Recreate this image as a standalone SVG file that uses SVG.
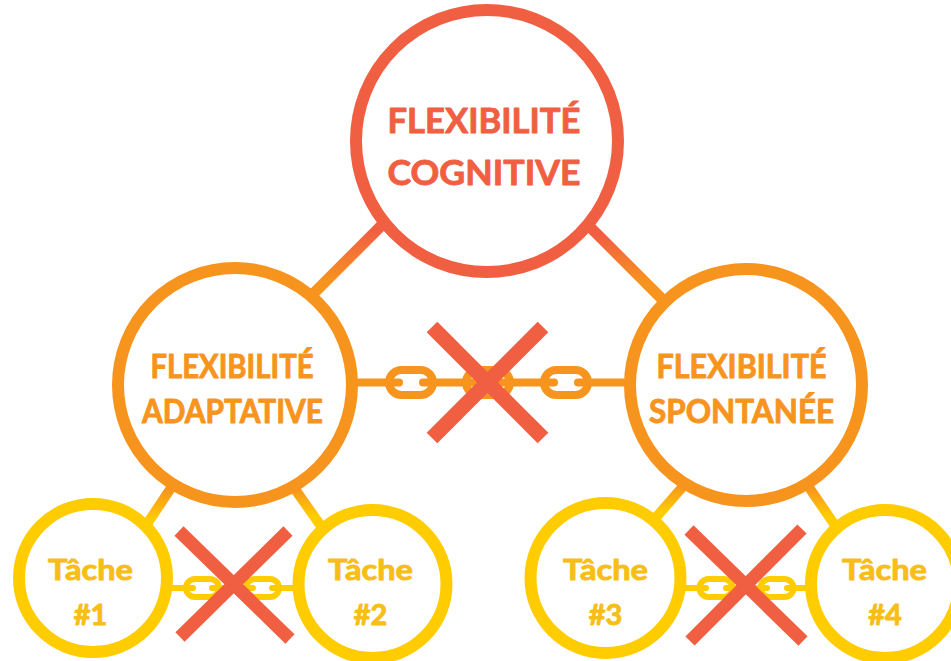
<svg xmlns="http://www.w3.org/2000/svg" width="951" height="661" viewBox="0 0 951 661">
  <defs>
    <linearGradient id="gTop" x1="0" y1="0" x2="0" y2="1">
      <stop offset="0.25" stop-color="#F15F43"/>
      <stop offset="0.75" stop-color="#F7941E"/>
    </linearGradient>
    <linearGradient id="gBot" x1="0" y1="0" x2="0" y2="1">
      <stop offset="0.3" stop-color="#F7941E"/>
      <stop offset="0.7" stop-color="#FFCC00"/>
    </linearGradient>
    <style>
      .node { fill: #FFFFFF; stroke-width: 12; }
      .red { stroke: #F15F43; }
      .orange { stroke: #F7941E; }
      .yellow { stroke: #FFCC00; }
      .lbl { font-family: Lato, "Open Sans", "Liberation Sans", sans-serif; font-weight: 700; text-anchor: middle; stroke-width: 0.9; stroke-linejoin: round; }
      .tRed { fill: #F15F43; stroke: #F15F43; font-size: 35px; }
      .tOrange { fill: #F7941E; stroke: #F7941E; font-size: 32px; }
      .tYellow { fill: #F7BE16; stroke: #F7BE16; font-size: 29px; }
      .branchTop { stroke: url(#gTop); stroke-width: 11; fill: none; }
      .branchBot { stroke: url(#gBot); stroke-width: 10; fill: none; }
      .chainO { stroke: #F7941E; stroke-width: 8; fill: none; stroke-linecap: round; }
      .chainY { stroke: #FFCC00; stroke-width: 6; fill: none; stroke-linecap: round; }
      .cross { stroke: #F05F41; fill: none; }
    </style>
  </defs>

  <g id="connectors">
    <line class="branchTop" x1="400" y1="207" x2="300" y2="307"/>
    <line class="branchTop" x1="575" y1="212" x2="670" y2="307"/>
    <line class="branchBot" x1="185" y1="467" x2="135" y2="542"/>
    <line class="branchBot" x1="280" y1="468" x2="328" y2="536"/>
    <line class="branchBot" x1="700" y1="467" x2="645" y2="530"/>
    <line class="branchBot" x1="795" y1="467" x2="843" y2="537"/>

    <g id="chain-middle">
      <line class="chainO" x1="340" y1="382.5" x2="399" y2="382.5"/>
      <line class="chainO" x1="423" y1="382.5" x2="476" y2="382.5"/>
      <line class="chainO" x1="500" y1="382.5" x2="554" y2="382.5"/>
      <line class="chainO" x1="578" y1="382.5" x2="640" y2="382.5"/>
      <rect class="chainO" x="389" y="370" width="44" height="25" rx="12.5"/>
      <rect class="chainO" x="466" y="370" width="44" height="25" rx="12.5"/>
      <rect class="chainO" x="544" y="370" width="44" height="25" rx="12.5"/>
    </g>
    <g id="chain-left">
      <line class="chainY" x1="160" y1="588" x2="193" y2="588"/>
      <line class="chainY" x1="212" y1="588" x2="253" y2="588"/>
      <line class="chainY" x1="272" y1="588" x2="305" y2="588"/>
      <rect class="chainY" x="186" y="579" width="33" height="18" rx="9"/>
      <rect class="chainY" x="246" y="579" width="33" height="18" rx="9"/>
    </g>
    <g id="chain-right">
      <line class="chainY" x1="670" y1="588" x2="706" y2="588"/>
      <line class="chainY" x1="726" y1="588" x2="767" y2="588"/>
      <line class="chainY" x1="787" y1="588" x2="820" y2="588"/>
      <rect class="chainY" x="699.5" y="579" width="33" height="18" rx="9"/>
      <rect class="chainY" x="760.5" y="579" width="33" height="18" rx="9"/>
    </g>
  </g>

  <g id="node-cognitive">
    <circle class="node red" cx="487" cy="141" r="131"/>
    <text class="lbl tRed" x="484" y="133" textLength="193" lengthAdjust="spacingAndGlyphs">FLEXIBILITÉ</text>
    <text class="lbl tRed" x="484" y="185" textLength="193" lengthAdjust="spacingAndGlyphs">COGNITIVE</text>
  </g>

  <g id="node-adaptative">
    <circle class="node orange" cx="235" cy="385" r="117"/>
    <text class="lbl tOrange" x="232" y="378" textLength="163" lengthAdjust="spacingAndGlyphs">FLEXIBILITÉ</text>
    <text class="lbl tOrange" x="232.5" y="423" textLength="181" lengthAdjust="spacingAndGlyphs">ADAPTATIVE</text>
  </g>

  <g id="node-spontanee">
    <circle class="node orange" cx="746" cy="385" r="116"/>
    <text class="lbl tOrange" x="741.5" y="378" textLength="170" lengthAdjust="spacingAndGlyphs">FLEXIBILITÉ</text>
    <text class="lbl tOrange" x="741.5" y="423" textLength="185" lengthAdjust="spacingAndGlyphs">SPONTANÉE</text>
  </g>

  <g id="node-tache1">
    <circle class="node yellow" cx="93" cy="578" r="74"/>
    <text class="lbl tYellow" x="90.5" y="580" textLength="85" lengthAdjust="spacingAndGlyphs">Tâche</text>
    <text class="lbl tYellow" x="90.5" y="625">#1</text>
  </g>

  <g id="node-tache2">
    <circle class="node yellow" cx="372.5" cy="584" r="74"/>
    <text class="lbl tYellow" x="370.5" y="580" textLength="85" lengthAdjust="spacingAndGlyphs">Tâche</text>
    <text class="lbl tYellow" x="370.5" y="625">#2</text>
  </g>

  <g id="node-tache3">
    <circle class="node yellow" cx="605.5" cy="578" r="75"/>
    <text class="lbl tYellow" x="605.5" y="580" textLength="85" lengthAdjust="spacingAndGlyphs">Tâche</text>
    <text class="lbl tYellow" x="605.5" y="625">#3</text>
  </g>

  <g id="node-tache4">
    <circle class="node yellow" cx="885" cy="584" r="74"/>
    <text class="lbl tYellow" x="884.5" y="580" textLength="85" lengthAdjust="spacingAndGlyphs">Tâche</text>
    <text class="lbl tYellow" x="885" y="625">#4</text>
  </g>

  <g id="blocked-links">
    <g class="cross" stroke-width="15">
      <line x1="432" y1="327" x2="543" y2="438"/>
      <line x1="543" y1="327" x2="432" y2="438"/>
    </g>
    <g class="cross" stroke-width="13">
      <line x1="179" y1="531" x2="290" y2="639"/>
      <line x1="288" y1="531" x2="180" y2="637"/>
    </g>
    <g class="cross" stroke-width="13">
      <line x1="689" y1="530" x2="803" y2="641"/>
      <line x1="802" y1="529" x2="690" y2="641"/>
    </g>
  </g>
</svg>
